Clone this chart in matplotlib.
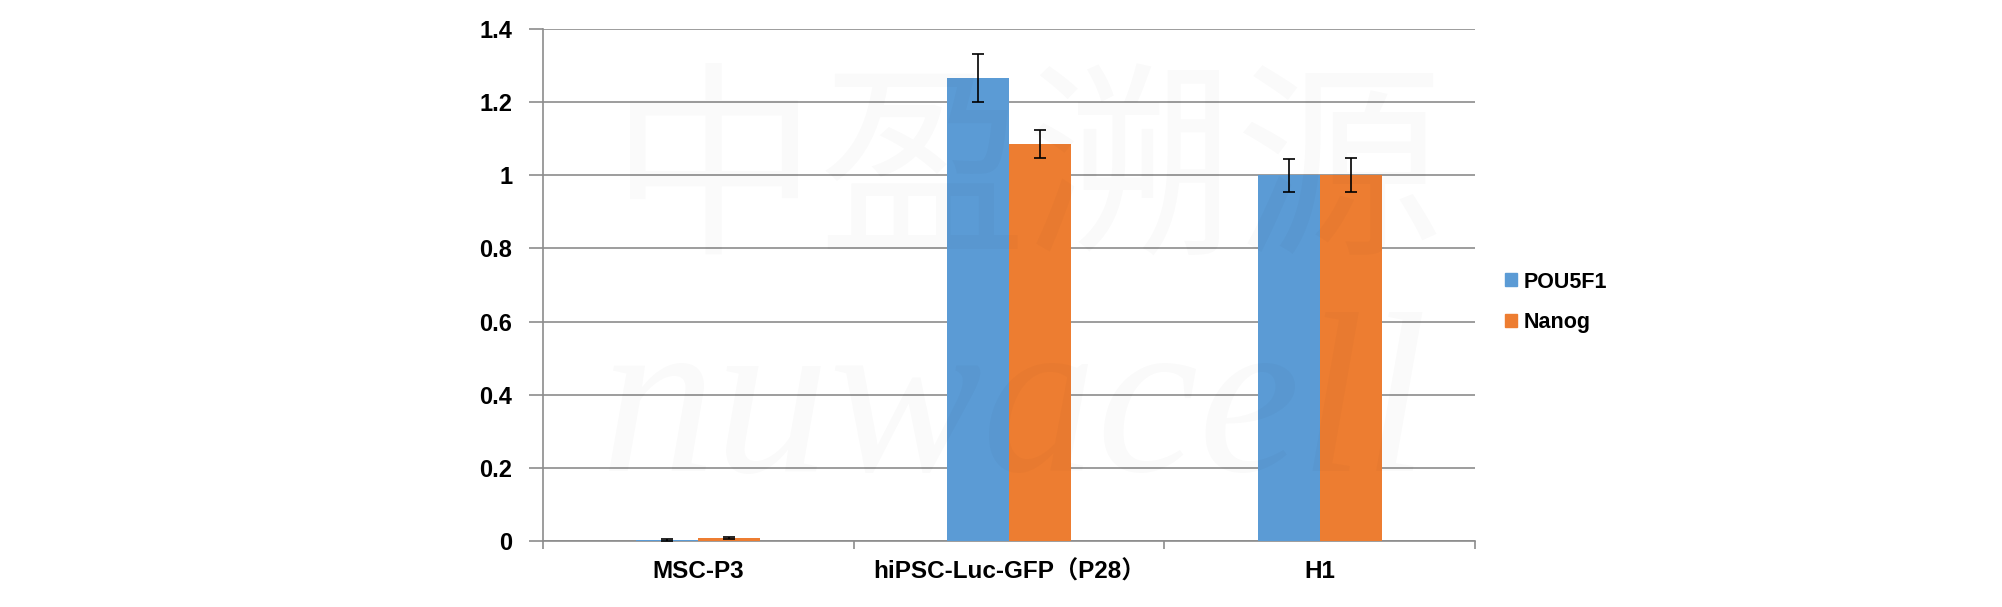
import numpy as np
import matplotlib.pyplot as plt
from matplotlib.patches import Patch

# Data
categories = ["MSC-P3", "hiPSC-Luc-GFP（P28）", "H1"]
pou5f1 = [0.003, 1.266, 1.0]
pou5f1_err = [0.002, 0.065, 0.045]
nanog = [0.008, 1.086, 1.0]
nanog_err = [0.003, 0.039, 0.047]
series_names = ["POU5F1", "Nanog"]
yticks = [0, 0.2, 0.4, 0.6, 0.8, 1.0, 1.2, 1.4]
ytick_labels = ["0", "0.2", "0.4", "0.6", "0.8", "1", "1.2", "1.4"]

blue = "#5B9BD5"
orange = "#ED7D31"
grid_gray = "#8C8C8C"

plt.rcParams['font.family'] = ['Liberation Sans', 'Noto Sans CJK SC', 'DejaVu Sans']

fig = plt.figure(figsize=(20.02, 6.07), dpi=100)
ax = fig.add_axes([0.2712, 0.1087, 0.4656, 0.8435])

x = np.arange(len(categories))
w = 0.2
err_kw = dict(ecolor='black', elinewidth=1.2, capsize=4, capthick=1.2)
ax.bar(x - w / 2, pou5f1, w, yerr=pou5f1_err, color=blue, error_kw=err_kw, zorder=3)
ax.bar(x + w / 2, nanog, w, yerr=nanog_err, color=orange, error_kw=err_kw, zorder=3)

ax.set_xlim(-0.5, len(categories) - 0.5)
ax.set_ylim(0, 1.4)
ax.set_yticks(yticks)
ax.set_yticklabels(ytick_labels, fontsize=17, fontweight='bold')
ax.yaxis.grid(True, color=grid_gray, linewidth=1.2, zorder=0)
ax.set_axisbelow(True)

# category labels centered, ticks on boundaries
ax.set_xticks(x)
ax.set_xticklabels(categories, fontsize=17.5, fontweight='bold')
ax.tick_params(axis='x', length=0, pad=14)
ax.set_xticks(np.arange(len(categories) + 1) - 0.5, minor=True)
ax.tick_params(axis='x', which='minor', length=6, color=grid_gray, width=1.2)
ax.tick_params(axis='y', length=10, color=grid_gray, width=1.2, pad=12)

for s in ['top', 'right']:
    ax.spines[s].set_visible(False)
for s in ['left', 'bottom']:
    ax.spines[s].set_color(grid_gray)
    ax.spines[s].set_linewidth(1.2)

# legend
handles = [Patch(color=blue), Patch(color=orange)]
fig.legend(handles, series_names, loc='center left', bbox_to_anchor=(0.742, 0.502),
           frameon=False, handlelength=0.55, handleheight=0.55, handletextpad=0.3,
           labelspacing=0.9, prop=dict(size=15.5, weight='bold'))

# faint watermark
fig.text(0.513, 0.705, "中盈溯源", fontsize=150, color='black', alpha=0.018,
         family=['Noto Sans CJK SC'], weight='light', ha='center', va='center',
         style='italic', zorder=10)
fig.text(0.507, 0.315, "nuwacell", fontsize=165, color='black', alpha=0.02,
         family=['Liberation Serif'], ha='center', va='center', style='italic', zorder=10)

fig.savefig("out.png", dpi=100)
